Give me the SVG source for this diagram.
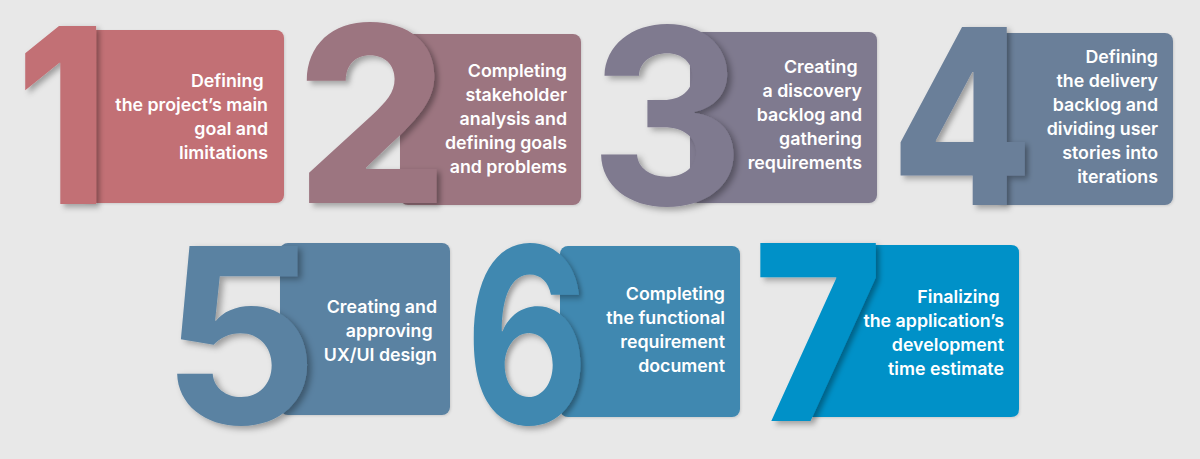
<svg xmlns="http://www.w3.org/2000/svg" width="1200" height="459" viewBox="0 0 1200 459">
<defs>
<filter id="sh" x="-40%" y="-30%" width="180%" height="160%">
<feDropShadow dx="4" dy="3" stdDeviation="3" flood-color="#000" flood-opacity="0.33"/>
</filter>
<filter id="csh" x="-10%" y="-10%" width="120%" height="120%">
<feDropShadow dx="1" dy="1" stdDeviation="1" flood-color="#000" flood-opacity="0.12"/>
</filter>
</defs>
<style>
.lbl{font-family:Inter,"Noto Sans",sans-serif;font-weight:600;font-size:17.8px;fill:#fff;text-anchor:end}
.dig{font-family:Inter,"Noto Sans",sans-serif;font-weight:800;font-size:245px;text-anchor:middle}
.dl{font-weight:700}
</style>
<rect width="1200" height="459" fill="#e8e8e8"/>
<g id="node1">
<rect x="80" y="30" width="204" height="173" rx="8" fill="#c26f74" filter="url(#csh)"/>
<text class="dig" x="62" y="204" fill="#c26f74" filter="url(#sh)" transform="translate(62,0) scale(0.85,1) translate(-62,0)">1</text>
<text class="lbl" y="87"><tspan x="268">Defining </tspan><tspan x="268" dy="24">the project’s main</tspan><tspan x="268" dy="24">goal and</tspan><tspan x="268" dy="24">limitations</tspan></text>
</g>
<g id="node2">
<rect x="400" y="34" width="181" height="171" rx="8" fill="#9c7580" filter="url(#csh)"/>
<text class="dig" x="372" y="203" fill="#9c7580" filter="url(#sh)" transform="translate(372,0) scale(0.97,1) translate(-372,0)">2</text>
<text class="lbl" y="77"><tspan x="567">Completing</tspan><tspan x="567" dy="24">stakeholder</tspan><tspan x="567" dy="24">analysis and</tspan><tspan x="567" dy="24">defining goals</tspan><tspan x="567" dy="24">and problems</tspan></text>
</g>
<g id="node3">
<rect x="690" y="32" width="187" height="171" rx="8" fill="#7f7a8f" filter="url(#csh)"/>
<text class="dig dl" x="667" y="205" fill="#7f7a8f" filter="url(#sh)" transform="translate(667,0) scale(0.98,1) translate(-667,0)">3</text>
<text class="lbl" y="73"><tspan x="862">Creating </tspan><tspan x="862" dy="24">a discovery</tspan><tspan x="862" dy="24">backlog and</tspan><tspan x="862" dy="24">gathering</tspan><tspan x="862" dy="24">requirements</tspan></text>
</g>
<g id="node4">
<rect x="995" y="33" width="178" height="172" rx="8" fill="#6b7f99" filter="url(#csh)"/>
<text class="dig" x="962" y="205" fill="#6b7f99" filter="url(#sh)" transform="translate(962,0) scale(0.84,1) translate(-962,0)">4</text>
<text class="lbl" y="63"><tspan x="1158">Defining</tspan><tspan x="1158" dy="24">the delivery</tspan><tspan x="1158" dy="24">backlog and</tspan><tspan x="1158" dy="24">dividing user</tspan><tspan x="1158" dy="24">stories into</tspan><tspan x="1158" dy="24">iterations</tspan></text>
</g>
<g id="node5">
<rect x="280" y="243" width="170" height="172" rx="8" fill="#5a82a2" filter="url(#csh)"/>
<text class="dig dl" x="240" y="424" fill="#5a82a2" filter="url(#sh)">5</text>
<text class="lbl" y="313"><tspan x="437">Creating and</tspan><tspan x="437" dy="24">approving </tspan><tspan x="437" dy="24">UX/UI design</tspan></text>
</g>
<g id="node6">
<rect x="560" y="246" width="180" height="171" rx="8" fill="#3f88b0" filter="url(#csh)"/>
<text class="dig dl" x="527" y="424" fill="#3f88b0" filter="url(#sh)" transform="translate(527,0) scale(0.78,1) translate(-527,0)">6</text>
<text class="lbl" y="300"><tspan x="725">Completing</tspan><tspan x="725" dy="24">the functional</tspan><tspan x="725" dy="24">requirement</tspan><tspan x="725" dy="24">document</tspan></text>
</g>
<g id="node7">
<path d="M858,245 H1011 Q1019,245 1019,253 V409 Q1019,417 1011,417 H798 Z" fill="#0191c8" filter="url(#csh)"/>
<text class="dig" x="818" y="421" fill="#0191c8" filter="url(#sh)" transform="translate(818,0) scale(0.9,1) translate(-818,0)">7</text>
<text class="lbl" y="303"><tspan x="1004">Finalizing </tspan><tspan x="1004" dy="24">the application’s</tspan><tspan x="1004" dy="24">development</tspan><tspan x="1004" dy="24">time estimate</tspan></text>
</g>
<g id="connectors"/>
</svg>
